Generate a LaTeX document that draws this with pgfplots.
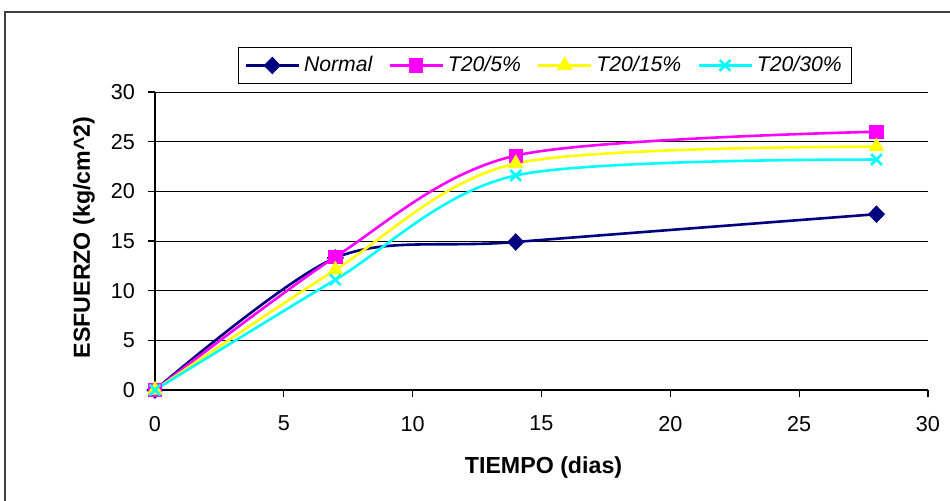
\documentclass[border=0pt]{standalone}
\usepackage{fontspec}
\setmainfont{Liberation Sans}
\usepackage{pgfplots}
\pgfplotsset{compat=1.18}
\definecolor{cNormal}{RGB}{0,0,128}
\definecolor{cFive}{RGB}{255,0,255}
\definecolor{cFifteen}{RGB}{255,255,0}
\definecolor{cThirty}{RGB}{0,255,255}
\begin{document}
\begin{tikzpicture}
\useasboundingbox (0,0) rectangle (475pt,250pt);
\draw[line width=0.9pt, black!75] (2.5pt,-5pt) |- (480pt,244pt);
\begin{axis}[
  at={(77.5pt,55pt)}, anchor=south west,
  scale only axis, width=386.5pt, height=149pt,
  xmin=0, xmax=30, ymin=0, ymax=30,
  xtick={0,5,...,30}, ytick={0,5,...,30},
  axis x line*=bottom, axis y line*=left,
  axis line style={line width=1pt, -},
  tick align=outside, major tick length=3.5pt,
  tick style={black, line width=0.6pt},
  ymajorgrids, grid style={black, line width=0.5pt},
  /pgf/number format/assume math mode=true,
  tick label style={font=\fontsize{10.8}{12}\selectfont},
  yticklabel style={xshift=-3pt},
  xticklabel style={yshift=-6pt},
  xlabel={TIEMPO (dias)},
  ylabel={ESFUERZO (kg/cm\textasciicircum 2)},
  label style={font=\bfseries\fontsize{11.6}{13}\selectfont},
  xlabel style={at={(axis description cs:0.5026,-0.2617)}, anchor=center},
  ylabel style={at={(axis description cs:-0.0918,0.512)}, anchor=center},
  clip=false,
  legend columns=4,
  legend style={at={(0.1074,1.089)}, anchor=west, draw=black, line width=0.5pt,
    font=\itshape\fontsize{10.6}{13}\selectfont,
    inner xsep=3pt, inner ysep=2.5pt,
    /tikz/every even column/.append style={column sep=6pt}},
  legend image code/.code={\draw[mark repeat=2,mark phase=2] plot coordinates {(0cm,0cm)(0.465cm,0cm)(0.93cm,0cm)};},
  every axis plot/.append style={line width=1.3pt, smooth}
]
\addplot[color=cNormal, mark=diamond*, mark size=4.1pt, mark options={line width=0.4pt, xscale=1.3}] coordinates {(0,0) (7,13.3) (14,14.9) (28,17.7)};
\addlegendentry{Normal}
\addplot[color=cFive, mark=square*, mark size=3.3pt, mark options={line width=0.4pt}] coordinates {(0,0) (7,13.4) (14,23.6) (28,26.0)};
\addlegendentry{T20/5\%}
\addplot[color=cFifteen, mark=triangle*, mark size=4.2pt, mark options={line width=0.4pt}] coordinates {(0,0) (7,12.1) (14,22.8) (28,24.5)};
\addlegendentry{T20/15\%}
\addplot[color=cThirty, mark=x, mark size=3.8pt, mark options={line width=1.3pt}] coordinates {(0,0) (7,11.1) (14,21.6) (28,23.2)};
\addlegendentry{T20/30\%}
\end{axis}
\end{tikzpicture}
\end{document}
